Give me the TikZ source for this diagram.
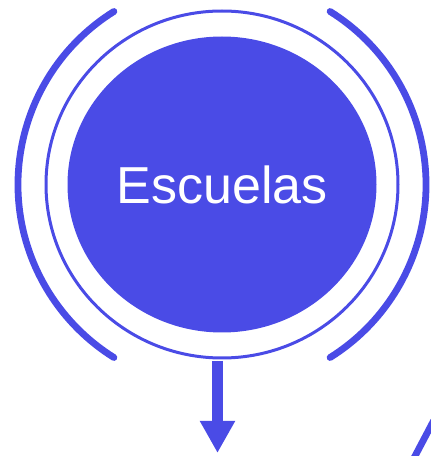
\documentclass[tikz,border=0pt]{standalone}
\usepackage{fontspec}
\setmainfont{Liberation Sans}
\usetikzlibrary{arrows.meta,shapes.geometric}
\definecolor{escblue}{RGB}{74,75,230}

\begin{document}
\begin{tikzpicture}[x=1pt,y=1pt,
		bubble/.style={ellipse, fill=escblue, draw=none, inner sep=0pt, minimum width=309pt, minimum height=296pt, text=white, font=\fontsize{52}{60}\selectfont},
		ring/.style={draw=escblue, line width=3pt},
		thickarc/.style={draw=escblue, line width=6.8pt, line cap=round},
		downarrow/.style={draw=escblue, fill=escblue, line width=10.5pt, -{Triangle[width=33pt,length=32pt]}}]
		%%%%% START %%%%%
		
		\useasboundingbox (0, 0) rectangle (431, 456);
		\clip (0, 0) rectangle (431, 456);
		
		\node[bubble] (escuelas) at (222, 271.5) {Escuelas};
		\draw[ring] (escuelas.center) ellipse [x radius=176, y radius=173.5];
		
		\draw[thickarc] (escuelas.center) ++(122:204) arc (122:238:204);
		\draw[thickarc] (escuelas.center) ++(58:204) arc (58:-58:204);
		
		\coordinate (below) at (217.5, 3);
		\draw[downarrow] (217.5, 95) -- (below);
		
		\draw[thickarc] (414, -2) -- (433.5, 35);
		
		%%%%% END %%%%%
	\end{tikzpicture}
\end{document}
